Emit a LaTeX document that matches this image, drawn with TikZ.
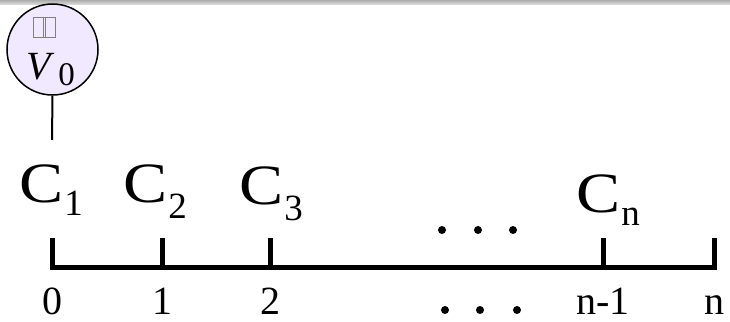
\documentclass[tikz,border=0pt]{standalone}
\usepackage{fontspec}
\setmainfont{Liberation Serif}
\usepackage{xcolor}
\usetikzlibrary{calc}
\definecolor{circfill}{RGB}{241,233,255}
\newcommand{\bigC}[2]{\scalebox{1.16}[1]{C}\kern1pt\raisebox{-#2pt}{\fontsize{37}{37}\selectfont #1}}

\begin{document}
\begin{tikzpicture}[x=1pt, y=-1pt,
    clab/.style={font=\fontsize{57}{57}\selectfont, anchor=base west, inner sep=0pt},
    numlab/.style={font=\fontsize{40}{40}\selectfont, anchor=base, inner sep=0pt},
    axis/.style={line width=5pt, line join=miter}]
    \useasboundingbox (0,0) rectangle (730,321);

    % Top bar
    \shade[top color=gray!65, bottom color=gray!22] (0,0) rectangle (730,5);

    % Circle V0
    \node[circle, draw, fill=circfill, line width=1.5pt, minimum size=91pt, inner sep=0pt] (v0) at (52.5,49.5) {};
    \draw[gray, line width=0.6pt] (33.5,17) rectangle (55,37);
    \draw[gray, line width=0.6pt] (43.5,17) -- (43.5,37) (45.5,17) -- (45.5,37);
    \node[anchor=base west, inner sep=0pt, font=\fontsize{40}{40}\selectfont] (v0lab) at (26,79)
        {\textit{V}\kern4pt\raisebox{-6pt}{\fontsize{33}{33}\selectfont 0}};
    \coordinate (stem) at (52,140);
    \draw[line width=2pt] (v0.south) -- (stem);

    % C labels
    \node[clab] (c1) at (19,202) {\bigC{1}{13}};
    \node[clab] (c2) at (123,202) {\bigC{2}{16}};
    \node[clab] (c3) at (239,204) {\bigC{3}{16}};
    \node[clab] (cn) at (576,212) {\bigC{n}{13}};

    % Axis with ticks
    \foreach \x/\n in {52/t0, 162/t1, 270/t2, 603/t3, 714/t4} {
        \coordinate (\n) at (\x,267);
        \coordinate (top\n) at (\x,238);
    }
    \draw[axis] (topt0) -- (t0) -- (t4) -- (topt4);
    \foreach \n in {t1, t2, t3} {
        \draw[axis] (top\n) -- (\n);
    }

    % Tick labels
    \foreach \n/\l in {t0/0, t1/1, t2/2, t3/n-1, t4/n} {
        \node[numlab] (lab\n) at ($(\n)+(0,47)$) {\l};
    }

    % Dots
    \foreach \x in {442, 478, 513} {
        \fill (\x,230) circle (4pt);
    }
    \foreach \x in {445, 480, 517} {
        \fill (\x,310) circle (4pt);
    }
\end{tikzpicture}
\end{document}
